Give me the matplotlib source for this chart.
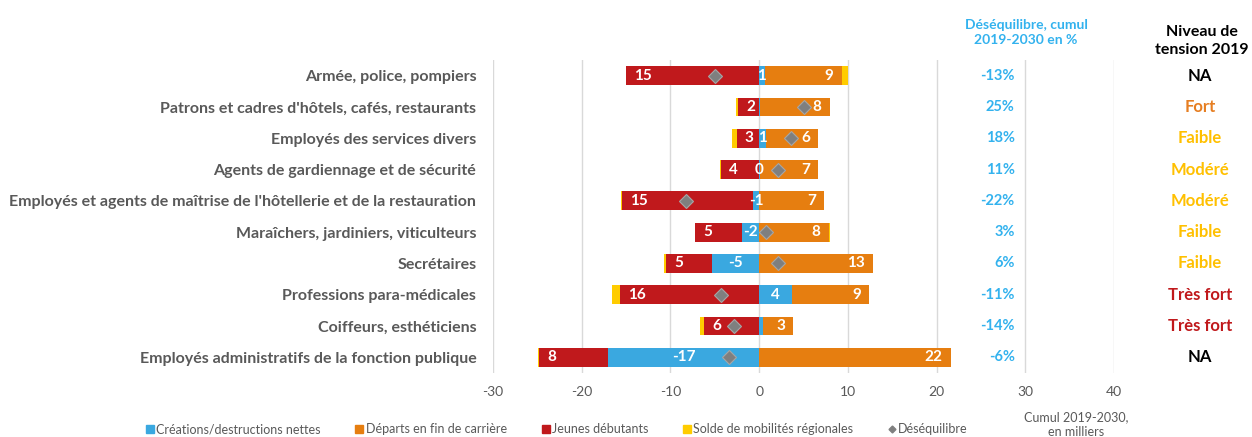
import numpy as np
import matplotlib
matplotlib.use("Agg")
import matplotlib.pyplot as plt
from matplotlib.lines import Line2D

plt.rcParams["font.family"] = ["Lato", "DejaVu Sans"]
plt.rcParams["axes.unicode_minus"] = False

# ---------------------------------------------------------------------------
# Data (milliers, cumul 2019-2030)
# ---------------------------------------------------------------------------
categories = [
    "Armée, police, pompiers",
    "Patrons et cadres d'hôtels, cafés, restaurants",
    "Employés des services divers",
    "Agents de gardiennage et de sécurité",
    "Employés et agents de maîtrise de l'hôtellerie et de la restauration",
    "Maraîchers, jardiniers, viticulteurs",
    "Secrétaires",
    "Professions para-médicales",
    "Coiffeurs, esthéticiens",
    "Employés administratifs de la fonction publique",
]
creations = [0.64, 0.1, 0.75, 0.05, -0.67, -1.98, -5.28, 3.71, 0.45, -17.03]
departs   = [8.65, 7.84, 5.92, 6.6, 7.27, 7.83, 12.78, 8.65, 3.37, 21.6]
jeunes    = [-15.0, -2.36, -2.54, -4.3, -14.8, -5.21, -5.2, -15.65, -6.18, -7.77]
solde     = [0.7, -0.3, -0.5, -0.1, -0.1, 0.19, -0.22, -0.98, -0.48, -0.1]
deseq     = [-5.0, 5.1, 3.6, 2.1, -8.3, 0.75, 2.07, -4.27, -2.8, -3.4]
blue_label_shown = [True, False, True, True, True, True, True, True, False, True]

deseq_pct = ["-13%", "25%", "18%", "11%", "-22%", "3%", "6%", "-11%", "-14%", "-6%"]
tension   = ["NA", "Fort", "Faible", "Modéré", "Modéré", "Faible", "Faible",
             "Très fort", "Très fort", "NA"]

C_BLUE, C_ORANGE, C_RED, C_YELLOW = "#3AA8E0", "#E67E10", "#C0191C", "#FFCC00"
C_DIAM = "#7F7F7F"
C_GRAY = "#595959"
C_PCT = "#33B2EE"
tension_colors = {"NA": "#000000", "Fort": "#E67E22", "Faible": "#FFC000",
                  "Modéré": "#FFC000", "Très fort": "#C0191C"}

# ---------------------------------------------------------------------------
# Figure
# ---------------------------------------------------------------------------
fig = plt.figure(figsize=(12.52, 4.37), dpi=100)
ax = fig.add_axes([493 / 1252, 1 - 373 / 437, (1114 - 493) / 1252, (373 - 60) / 437])

y = np.arange(len(categories))
h = 0.6
pos = np.zeros(len(y))
neg = np.zeros(len(y))

segments = {}
for name, vals, col in [("creations", creations, C_BLUE), ("departs", departs, C_ORANGE),
                        ("jeunes", jeunes, C_RED), ("solde", solde, C_YELLOW)]:
    vals = np.array(vals)
    left = np.where(vals >= 0, pos, neg)
    ax.barh(y, vals, left=left, height=h, color=col, edgecolor="none", zorder=2)
    segments[name] = (left, vals)
    pos = np.where(vals >= 0, pos + vals, pos)
    neg = np.where(vals < 0, neg + vals, neg)

lab_kw = dict(color="white", fontsize=11, fontweight="bold", va="center", zorder=4)

# blue labels centred
left, vals = segments["creations"]
for i in y:
    if blue_label_shown[i]:
        ax.text(left[i] + vals[i] / 2, i, f"{round(vals[i]):d}", ha="center", **lab_kw)
# orange labels inside end
left, vals = segments["departs"]
for i in y:
    ax.text(left[i] + vals[i] - 0.9, i, f"{round(vals[i]):d}", ha="right", **lab_kw)
# red labels inside end (left side)
left, vals = segments["jeunes"]
for i in y:
    ax.text(left[i] + vals[i] + 0.9, i, f"{round(-vals[i]):d}", ha="left", **lab_kw)

ax.plot(deseq, y, linestyle="none", marker="D", markersize=7.5, color=C_DIAM,
        markeredgecolor="#A6A6A6", markeredgewidth=0.8, zorder=5)

ax.set_xlim(-30, 40)
ax.set_ylim(len(y) - 0.5, -0.5)
ax.set_xticks(np.arange(-30, 41, 10))
ax.set_yticks(y)
ax.set_yticklabels(categories, fontsize=11.5, fontweight="bold", color=C_GRAY)
ax.tick_params(axis="y", length=0, pad=12)
ax.tick_params(axis="x", length=0, pad=9, labelsize=10, labelcolor=C_GRAY)
ax.grid(axis="x", color="#D9D9D9", linewidth=1, zorder=0)
for s in ax.spines.values():
    s.set_visible(False)

# right-hand columns
for i in y:
    ax.text(28.8, i, deseq_pct[i], ha="right", va="center", fontsize=10.5,
            fontweight="bold", color=C_PCT, clip_on=False)
    ax.text(49.7, i, tension[i], ha="center", va="center", fontsize=12,
            fontweight="bold", color=tension_colors[tension[i]], clip_on=False)

ax.text(30.1, -1.38, "Déséquilibre, cumul\n2019-2030 en %", ha="center", va="center",
        fontsize=10, fontweight="bold", color=C_PCT, linespacing=1.3, clip_on=False)
ax.text(49.9, -1.1, "Niveau de\ntension 2019", ha="center", va="center",
        fontsize=11.5, fontweight="bold", color="black", linespacing=1.35, clip_on=False)
ax.text(35.7, 11.15, "Cumul 2019-2030,\nen milliers", ha="center", va="center",
        fontsize=9, color=C_GRAY, linespacing=1.2, clip_on=False)

# legend
handles = [
    Line2D([], [], marker="s", linestyle="none", color=C_BLUE, markersize=6),
    Line2D([], [], marker="s", linestyle="none", color=C_ORANGE, markersize=6),
    Line2D([], [], marker="s", linestyle="none", color=C_RED, markersize=6),
    Line2D([], [], marker="s", linestyle="none", color=C_YELLOW, markersize=6),
    Line2D([], [], marker="D", linestyle="none", color=C_DIAM, markersize=3.5),
]
labels = ["Créations/destructions nettes", "Départs en fin de carrière", "Jeunes débutants",
          "Solde de mobilités régionales", "Déséquilibre"]
leg = fig.legend(handles, labels, loc="center", bbox_to_anchor=(557 / 1252, 1 - 429 / 437),
                 ncol=5, frameon=False, fontsize=9, handlelength=0.6, handletextpad=0.2,
                 columnspacing=2.8, labelcolor=C_GRAY)

fig.savefig("out.png", dpi=100)
